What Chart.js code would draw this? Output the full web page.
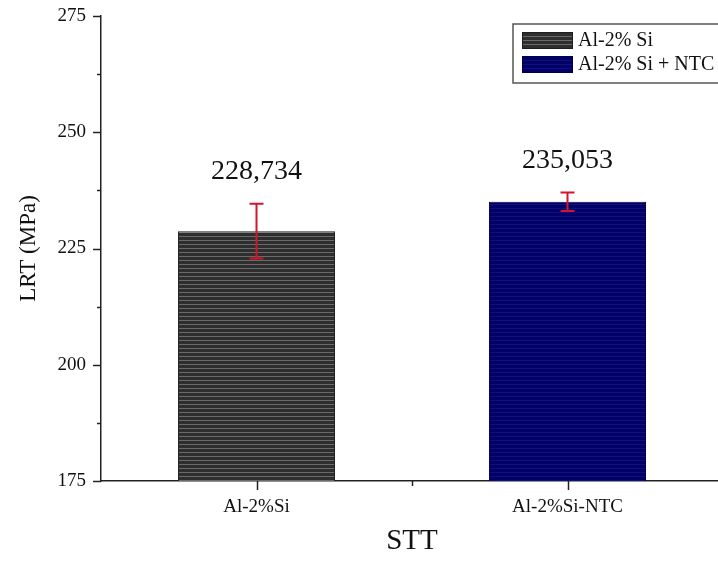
<!DOCTYPE html>
<html>
<head>
<meta charset="utf-8">
<script src="https://cdn.jsdelivr.net/npm/chart.js@4/dist/chart.umd.min.js"></script>
<style>
  html, body { margin: 0; padding: 0; background: #fff; overflow: hidden; width: 718px; height: 563px; }
  #wrap { position: absolute; left: 0; top: 0; width: 740px; height: 563px; }
</style>
</head>
<body>
<div id="wrap"><canvas id="c" width="740" height="563"></canvas></div>
<script>
// Ultimate tensile strength (LRT) of the two alloys
const categories = ['Al-2%Si', 'Al-2%Si-NTC'];
const legendLabels = ['Al-2% Si', 'Al-2% Si + NTC'];
const lrtValues = [228.734, 235.053];
const lrtErrors = [5.9, 2.0];
const valueLabels = ['228,734', '235,053'];
const yTicks = [175, 200, 225, 250, 275];

const SERIF = '"Liberation Serif", "Times New Roman", serif';

// Horizontal-stripe fills for the bars
function stripes(base, line) {
  const p = document.createElement('canvas');
  p.width = 8; p.height = 4;
  const g = p.getContext('2d');
  g.fillStyle = base; g.fillRect(0, 0, 8, 4);
  g.fillStyle = line; g.fillRect(0, 0, 8, 1);
  return document.getElementById('c').getContext('2d').createPattern(p, 'repeat');
}
const fills = [stripes('#2e2e2e', '#6a6a6a'), stripes('#000066', '#10107a')];
const borders = ['#1e1e1e', '#00004a'];

// Tick marks (major + minor) drawn outside the plot area
const tickMarks = {
  id: 'tickMarks',
  afterDraw(chart) {
    const ctx = chart.ctx, y = chart.scales.y, x = chart.scales.x;
    ctx.save();
    ctx.strokeStyle = '#222'; ctx.lineWidth = 1.5;
    y.ticks.forEach(t => {
      const py = Math.round(y.getPixelForValue(t.value)) + 0.5;
      const len = yTicks.includes(t.value) ? 8 : 4;
      ctx.beginPath(); ctx.moveTo(x.left, py); ctx.lineTo(x.left - len, py); ctx.stroke();
    });
    const bottom = y.bottom;
    categories.forEach((c, i) => {
      const px = Math.round(x.getPixelForValue(i)) + 0.5;
      ctx.beginPath(); ctx.moveTo(px, bottom); ctx.lineTo(px, bottom + 9); ctx.stroke();
      if (i < categories.length - 1) {
        const mx = Math.round((x.getPixelForValue(i) + x.getPixelForValue(i + 1)) / 2) + 0.5;
        ctx.beginPath(); ctx.moveTo(mx, bottom); ctx.lineTo(mx, bottom + 5); ctx.stroke();
      }
    });
    ctx.restore();
  }
};

// Error bars and value labels above each bar
const errorBars = {
  id: 'errorBars',
  afterDatasetsDraw(chart) {
    const ctx = chart.ctx, y = chart.scales.y;
    const meta = chart.getDatasetMeta(0);
    ctx.save();
    meta.data.forEach((bar, i) => {
      const cx = bar.x;
      const top = y.getPixelForValue(lrtValues[i] + lrtErrors[i]);
      const bot = y.getPixelForValue(lrtValues[i] - lrtErrors[i]);
      ctx.strokeStyle = '#d2152a'; ctx.lineWidth = 2;
      ctx.beginPath();
      ctx.moveTo(cx, top); ctx.lineTo(cx, bot);
      ctx.moveTo(cx - 7, top); ctx.lineTo(cx + 7, top);
      ctx.moveTo(cx - 7, bot); ctx.lineTo(cx + 7, bot);
      ctx.stroke();
      ctx.fillStyle = '#111';
      ctx.font = '28px ' + SERIF;
      ctx.textAlign = 'center'; ctx.textBaseline = 'middle';
      ctx.fillText(valueLabels[i], cx, top - 32);
    });
    ctx.restore();
  }
};

// Boxed legend in the upper right corner
const boxLegend = {
  id: 'boxLegend',
  afterDraw(chart) {
    const ctx = chart.ctx;
    ctx.save();
    ctx.strokeStyle = '#555'; ctx.lineWidth = 1.5;
    ctx.strokeRect(513, 24, 212, 59);
    ctx.font = '20px ' + SERIF;
    ctx.textAlign = 'left'; ctx.textBaseline = 'middle';
    legendLabels.forEach((lab, i) => {
      const top = 32 + i * 24;
      ctx.fillStyle = fills[i];
      ctx.fillRect(522, top, 51, 17);
      ctx.strokeStyle = borders[i]; ctx.lineWidth = 1;
      ctx.strokeRect(522.5, top + 0.5, 50, 16);
      ctx.fillStyle = '#111';
      ctx.fillText(lab, 578, top + 9);
    });
    ctx.restore();
  }
};

new Chart(document.getElementById('c'), {
  type: 'bar',
  data: {
    labels: categories,
    datasets: [{
      data: lrtValues,
      backgroundColor: fills,
      borderColor: borders,
      borderWidth: 1,
      barPercentage: 0.505,
      categoryPercentage: 1
    }]
  },
  options: {
    responsive: false,
    animation: false,
    layout: { padding: { left: 0, top: 16, right: 17, bottom: 0 } },
    plugins: { legend: { display: false }, tooltip: { enabled: false } },
    scales: {
      x: {
        grid: { display: false, drawTicks: false },
        border: { display: true, color: '#222', width: 1.5 },
        ticks: { color: '#111', font: { family: SERIF, size: 19 }, padding: 15 },
        title: { display: true, text: 'STT', color: '#111', font: { family: SERIF, size: 29 }, padding: { top: 0, bottom: 4 } },
        afterFit(s) { s.height = 82; s.paddingLeft = 0; s.paddingRight = 0; }
      },
      y: {
        min: 175, max: 275,
        grid: { display: false, drawTicks: false },
        border: { display: true, color: '#222', width: 1.5 },
        ticks: {
          stepSize: 12.5,
          color: '#111',
          font: { family: SERIF, size: 19 },
          padding: 15,
          callback: v => (yTicks.includes(v) ? String(v) : '')
        },
        title: { display: true, text: 'LRT (MPa)', color: '#111', font: { family: SERIF, size: 23 }, padding: { top: 15, bottom: 0 } },
        afterFit(s) { s.width = 101; s.paddingTop = 0; s.paddingBottom = 0; }
      }
    }
  },
  plugins: [tickMarks, errorBars, boxLegend]
});
</script>
</body>
</html>
